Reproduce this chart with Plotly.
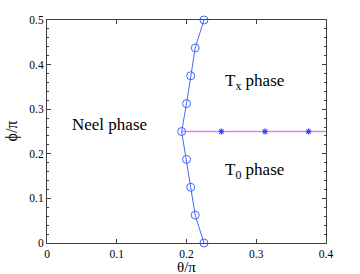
import plotly.graph_objects as go

boundary_theta = [0.225, 0.2125, 0.206, 0.2, 0.193, 0.2, 0.206, 0.2125, 0.225]
boundary_phi = [0.0, 0.0625, 0.125, 0.1875, 0.25, 0.3125, 0.375, 0.4375, 0.5]

tx_theta = [0.193, 0.25, 0.3125, 0.375, 0.4]
tx_phi = [0.25, 0.25, 0.25, 0.25, 0.25]
tx_marker_theta = [0.25, 0.3125, 0.375]
tx_marker_phi = [0.25, 0.25, 0.25]

xticks = [0, 0.1, 0.2, 0.3, 0.4]
xticklabels = ["0", "0.1", "0.2", "0.3", "0.4"]
yticks = [0, 0.1, 0.2, 0.3, 0.4, 0.5]
yticklabels = ["0", "0.1", "0.2", "0.3", "0.4", "0.5"]

fig = go.Figure()
fig.add_trace(go.Scatter(x=tx_theta, y=tx_phi, mode="lines",
                         line=dict(color="#c98cff", width=1.5), showlegend=False))
fig.add_trace(go.Scatter(x=tx_marker_theta, y=tx_marker_phi, mode="markers",
                         marker=dict(symbol="asterisk-open", size=5, color="#3344ff",
                                     line=dict(width=1.2, color="#3344ff")), showlegend=False))
fig.add_trace(go.Scatter(x=boundary_theta, y=boundary_phi, mode="lines+markers",
                         line=dict(color="#4466ff", width=1),
                         marker=dict(symbol="circle-open", size=8, color="#4466ff",
                                     line=dict(width=1)), showlegend=False, cliponaxis=False))

font = dict(family="Liberation Serif", size=17, color="black")
fig.add_annotation(x=0.09, y=0.265, text="Neel phase", showarrow=False, font=font)
fig.add_annotation(x=0.297, y=0.36, text="T<sub>x</sub> phase", showarrow=False, font=font)
fig.add_annotation(x=0.297, y=0.162, text="T<sub>0</sub> phase", showarrow=False, font=font)

fig.add_annotation(x=0.2, y=0, xref="x", yref="paper", yshift=-24, text="θ/π",
                   showarrow=False, font=dict(family="Liberation Serif", size=15, color="black"),
                   yanchor="middle")
fig.add_annotation(x=0, y=0.25, xref="paper", yref="y", xshift=-36, text="ϕ/π",
                   showarrow=False, font=dict(family="Liberation Serif", size=16, color="black"),
                   textangle=-90, xanchor="center")

axis_common = dict(showgrid=False, zeroline=False, showline=True, linecolor="#404040",
                   linewidth=1, ticks="inside", ticklen=4, tickcolor="#404040",
                   mirror="allticks", automargin=False,
                   tickfont=dict(family="Liberation Serif", size=11.5, color="black"))

fig.update_xaxes(range=[0, 0.4], tickvals=xticks, ticktext=xticklabels, **axis_common)
fig.update_yaxes(range=[0, 0.5], tickvals=yticks, ticktext=yticklabels,
                 minor=dict(dtick=0.02, ticks="inside", ticklen=2, tickcolor="#404040"),
                 **axis_common)

fig.update_layout(width=360, height=274, margin=dict(l=47, r=34, t=20, b=31),
                  plot_bgcolor="white", paper_bgcolor="white")
fig.write_html("out.html", config={"displayModeBar": False},
               post_script="document.body.style.margin='0';document.body.style.padding='0';")
